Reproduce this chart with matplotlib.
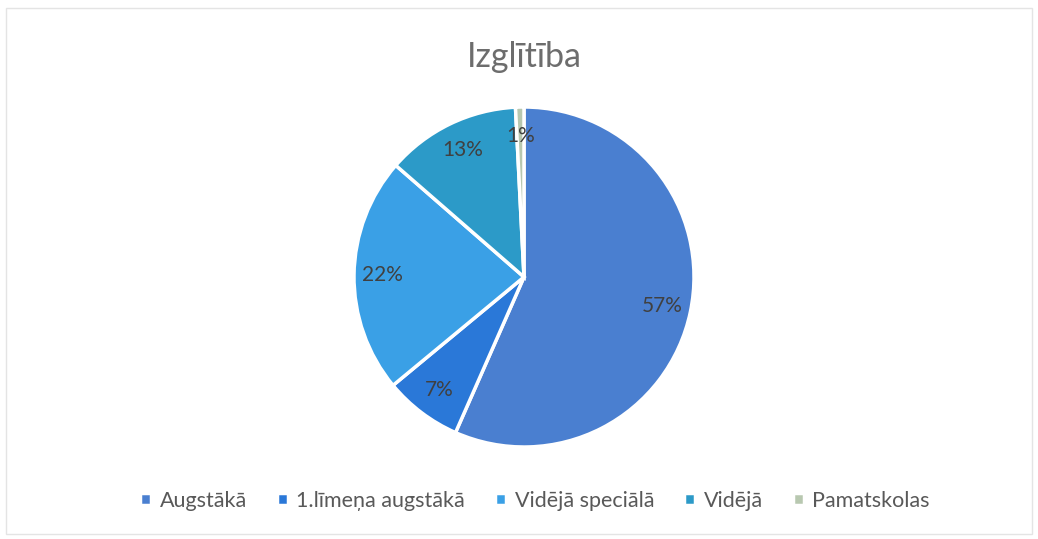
import matplotlib.pyplot as plt
from matplotlib.patches import Rectangle

# education levels and their shares (%)
categories = ["Augstākā", "1.līmeņa augstākā", "Vidējā speciālā", "Vidējā", "Pamatskolas"]
shares = [56.6, 7.4, 22.4, 12.8, 0.8]
colors = ["#4a7fd0", "#2a78d8", "#3aa0e6", "#2c9ac8", "#b8c8b0"]

plt.rcParams['font.family'] = ['Lato', 'DejaVu Sans']

fig = plt.figure(figsize=(10.38, 5.39), dpi=100)
fig.patch.set_facecolor("white")

# faint chart frame
fig.add_artist(Rectangle((0.006, 0.01), 0.988, 0.975, transform=fig.transFigure,
                         fill=False, edgecolor="#e4e4e4", linewidth=1))

cx, cy, r = 524, 277, 170
ax = fig.add_axes([(cx - r) / 1038, (539 - cy - r) / 539, 2 * r / 1038, 2 * r / 539])
wedges, texts, autotexts = ax.pie(
    shares, colors=colors, startangle=90, counterclock=False,
    autopct=lambda p: "%d%%" % round(p), pctdistance=0.83,
    wedgeprops=dict(edgecolor="white", linewidth=2.5),
    textprops=dict(color="#404040", fontsize=15))
ax.set_xlim(-1, 1)
ax.set_ylim(-1, 1)
ax.set_aspect("equal")

fig.text(cx / 1038, 1 - 57 / 539, "Izglītība", ha="center", va="center",
         fontsize=24.5, color="#6d6d6d")

fig.legend(wedges, categories, loc="center", bbox_to_anchor=(535 / 1038, 1 - 501 / 539),
           ncol=5, frameon=False, fontsize=15.5, handlelength=0.5, handleheight=0.5,
           columnspacing=1.4, handletextpad=0.4, labelcolor="#595959")

fig.savefig("out.png", dpi=100, facecolor="white")
